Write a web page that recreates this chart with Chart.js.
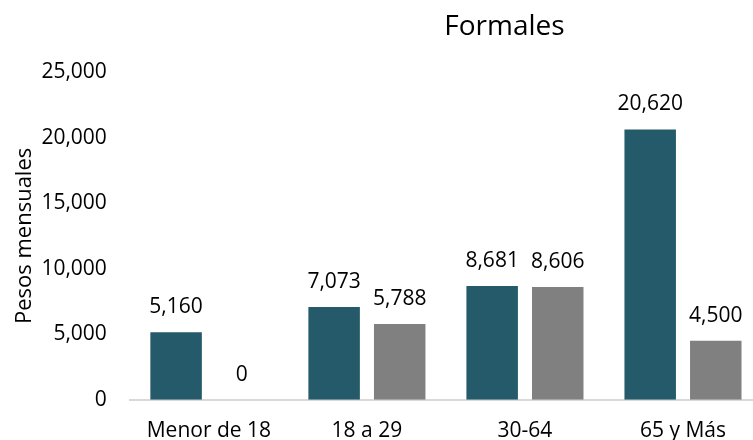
<!DOCTYPE html>
<html>
<head>
<meta charset="utf-8">
<script src="https://cdn.jsdelivr.net/npm/chart.js@4/dist/chart.umd.min.js"></script>
<style>
  html, body { margin: 0; padding: 0; background: #fff; overflow: hidden; }
  #wrap { width: 762px; height: 440px; }
</style>
</head>
<body>
<div id="wrap"><canvas id="chart"></canvas></div>
<script>
var categories = ['Menor de 18', '18 a 29', '30-64', '65 y Más'];
var serie1 = [5160, 7073, 8681, 20620];
var serie2 = [0, 5788, 8606, 4500];
var yTicks = [0, 5000, 10000, 15000, 20000, 25000];
var chartTitle = 'Formales';
var yTitle = 'Pesos mensuales';

let fmt = (v) => v.toLocaleString('en-US');

// value labels above each bar + title placed right of center like the original
let labelsPlugin = {
    id: 'labels',
    afterDatasetsDraw: (chart) => {
        let ctx = chart.ctx;
        ctx.save();
        ctx.fillStyle = '#000';
        ctx.font = '21px "Open Sans"';
        ctx.textAlign = 'center';
        ctx.textBaseline = 'middle';
        chart.data.datasets.forEach((ds, i) => {
            chart.getDatasetMeta(i).data.forEach((bar, j) => {
                ctx.fillText(fmt(ds.data[j]), bar.x, bar.y - 25);
            });
        });
        ctx.font = '28px "Open Sans"';
        ctx.fillText(chartTitle, chart.width * 0.662, 27);
        ctx.restore();
    }
};

let ctx = document.getElementById('chart');
new Chart(ctx, {
    type: 'bar',
    data: {
        labels: categories,
        datasets: [
            { label: 'Serie 1', data: serie1, backgroundColor: '#245a69' },
            { label: 'Serie 2', data: serie2, backgroundColor: '#808080' }
        ]
    },
    options: {
        responsive: true,
        maintainAspectRatio: false,
        animation: false,
        categoryPercentage: 0.83,
        barPercentage: 0.785,
        layout: { padding: { top: 72, left: -8, right: 0, bottom: -23 } },
        plugins: {
            legend: { display: false },
            title: { display: false },
            tooltip: { enabled: false }
        },
        scales: {
            x: {
                grid: { display: false, drawTicks: false },
                border: { display: true, color: '#d9d9d9', width: 2 },
                ticks: { color: '#000', font: { family: 'Open Sans', size: 21 }, padding: 19 }
            },
            y: {
                min: 0,
                max: 25000,
                afterBuildTicks: (axis) => { axis.ticks = yTicks.map(v => ({ value: v })); },
                grid: { display: false, drawTicks: false },
                border: { display: false },
                ticks: { color: '#000', font: { family: 'Open Sans', size: 21 }, padding: 23, callback: (v) => fmt(v) },
                title: { display: true, text: yTitle, color: '#000', font: { family: 'Open Sans', size: 22 }, padding: { top: 20, bottom: -20 } }
            }
        }
    },
    plugins: [labelsPlugin]
});
</script>
</body>
</html>
